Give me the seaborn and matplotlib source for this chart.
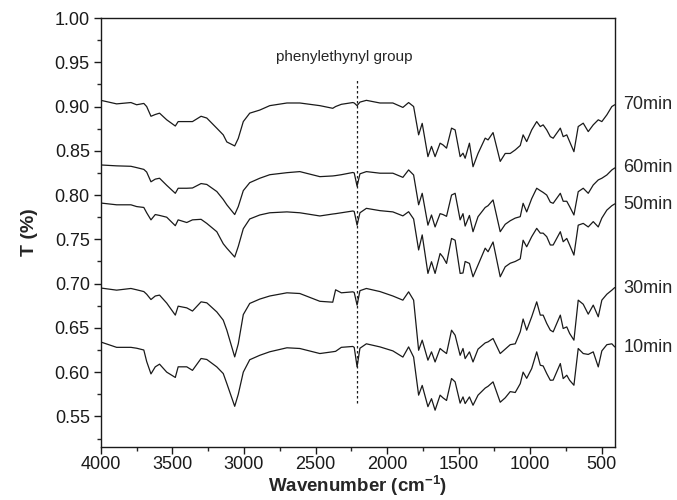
import matplotlib
matplotlib.use("Agg")
import matplotlib.pyplot as plt
import matplotlib.transforms as mtransforms
from matplotlib.ticker import MultipleLocator, FormatStrFormatter
import numpy as np
import pandas as pd
import seaborn as sns

# wavenumber grid shared by all spectra (cm-1)
WAVENUMBER = [
    4000, 3890, 3790, 3750, 3700, 3680, 3650, 3620, 3590, 3540,
    3480, 3460, 3400, 3360, 3300, 3260, 3190, 3145, 3120, 3065,
    3040, 3005, 2960, 2890, 2820, 2700, 2610, 2470, 2380, 2360,
    2320, 2240, 2230, 2210, 2190, 2145, 2050, 1960, 1890, 1850,
    1815, 1780, 1755, 1715, 1690, 1665, 1630, 1610, 1585, 1550,
    1525, 1490, 1470, 1455, 1425, 1400, 1365, 1315, 1295, 1260,
    1210, 1175, 1140, 1105, 1070, 1050, 1025, 990, 955, 930,
    910, 885, 860, 840, 790, 770, 745, 725, 695, 665,
    630, 595, 560, 525, 500, 465, 430, 410,
]

T_70MIN = [
    0.907, 0.903, 0.9045, 0.902, 0.9035, 0.900, 0.889, 0.891, 0.8925, 0.885,
    0.878, 0.883, 0.883, 0.883, 0.889, 0.887, 0.8755, 0.868, 0.860, 0.8555,
    0.864, 0.883, 0.8925, 0.896, 0.901, 0.904, 0.904, 0.901, 0.898, 0.900,
    0.9025, 0.9045, 0.904, 0.901, 0.905, 0.907, 0.904, 0.904, 0.899, 0.9045,
    0.900, 0.868, 0.881, 0.8434, 0.855, 0.8434, 0.8586, 0.8567, 0.853, 0.8756,
    0.8736, 0.8434, 0.8473, 0.8416, 0.8586, 0.832, 0.847, 0.8643, 0.8623, 0.8706,
    0.838, 0.847, 0.847, 0.851, 0.856, 0.868, 0.8604, 0.8736, 0.883, 0.8774,
    0.8793, 0.8736, 0.866, 0.8642, 0.8756, 0.866, 0.868, 0.8604, 0.849, 0.8774,
    0.8812, 0.8717, 0.8793, 0.885, 0.883, 0.8906, 0.900, 0.902,
]

T_60MIN = [
    0.834, 0.833, 0.8325, 0.831, 0.829, 0.826, 0.815, 0.818, 0.819, 0.811,
    0.802, 0.8077, 0.8077, 0.808, 0.813, 0.812, 0.804, 0.795, 0.789, 0.778,
    0.787, 0.805, 0.814, 0.819, 0.823, 0.8253, 0.8265, 0.8208, 0.8216, 0.822,
    0.823, 0.8255, 0.825, 0.810, 0.824, 0.8265, 0.8247, 0.8247, 0.820, 0.8284,
    0.8227, 0.789, 0.802, 0.766, 0.7775, 0.764, 0.779, 0.778, 0.776, 0.800,
    0.802, 0.772, 0.779, 0.765, 0.777, 0.7586, 0.7756, 0.786, 0.788, 0.7945,
    0.7586, 0.767, 0.771, 0.774, 0.7756, 0.7907, 0.781, 0.796, 0.8077, 0.805,
    0.803, 0.800, 0.792, 0.7907, 0.802, 0.793, 0.793, 0.787, 0.7775, 0.8038,
    0.8077, 0.802, 0.8114, 0.8171, 0.819, 0.8227, 0.8284, 0.8306,
]

T_50MIN = [
    0.791, 0.789, 0.789, 0.787, 0.786, 0.780, 0.772, 0.778, 0.777, 0.775,
    0.7654, 0.772, 0.769, 0.772, 0.7726, 0.768, 0.7586, 0.745, 0.740, 0.730,
    0.742, 0.762, 0.773, 0.7775, 0.780, 0.781, 0.780, 0.7764, 0.7786, 0.779,
    0.780, 0.782, 0.7815, 0.766, 0.780, 0.785, 0.7824, 0.781, 0.7765, 0.7812,
    0.773, 0.738, 0.755, 0.7115, 0.7247, 0.7115, 0.734, 0.730, 0.7228, 0.751,
    0.749, 0.7115, 0.712, 0.725, 0.7228, 0.7077, 0.721, 0.740, 0.736, 0.747,
    0.7077, 0.719, 0.723, 0.725, 0.728, 0.749, 0.7416, 0.753, 0.7624, 0.757,
    0.757, 0.753, 0.7436, 0.7436, 0.7586, 0.7473, 0.751, 0.7436, 0.7322, 0.766,
    0.768, 0.764, 0.770, 0.764, 0.774, 0.783, 0.788, 0.790,
]

T_30MIN = [
    0.695, 0.6926, 0.6945, 0.693, 0.691, 0.688, 0.682, 0.686, 0.687, 0.678,
    0.6644, 0.6745, 0.6726, 0.669, 0.6794, 0.6783, 0.668, 0.6587, 0.6474, 0.6172,
    0.632, 0.665, 0.6776, 0.6825, 0.686, 0.6896, 0.6888, 0.680, 0.679, 0.693,
    0.6896, 0.6907, 0.690, 0.6757, 0.692, 0.6945, 0.691, 0.686, 0.6813, 0.6907,
    0.6813, 0.6247, 0.6361, 0.6135, 0.6229, 0.6115, 0.6267, 0.624, 0.621, 0.6474,
    0.6417, 0.619, 0.6267, 0.6153, 0.6229, 0.6115, 0.626, 0.633, 0.6342, 0.638,
    0.621, 0.626, 0.631, 0.632, 0.6455, 0.660, 0.6474, 0.6625, 0.6794, 0.6644,
    0.6644, 0.655, 0.6474, 0.6455, 0.6644, 0.6493, 0.6511, 0.6437, 0.6361, 0.6813,
    0.6767, 0.6655, 0.6757, 0.6625, 0.6813, 0.688, 0.6926, 0.6955,
]

T_10MIN = [
    0.634, 0.628, 0.628, 0.627, 0.625, 0.612, 0.598, 0.606, 0.609, 0.600,
    0.594, 0.606, 0.606, 0.602, 0.6154, 0.6143, 0.6059, 0.5984, 0.5871, 0.5614,
    0.575, 0.600, 0.614, 0.619, 0.623, 0.6275, 0.6267, 0.621, 0.623, 0.6235,
    0.628, 0.629, 0.628, 0.606, 0.627, 0.632, 0.6285, 0.624, 0.617, 0.6285,
    0.617, 0.574, 0.585, 0.561, 0.570, 0.557, 0.574, 0.571, 0.568, 0.5928,
    0.589, 0.565, 0.572, 0.5645, 0.572, 0.5626, 0.574, 0.582, 0.584, 0.589,
    0.566, 0.571, 0.578, 0.577, 0.587, 0.600, 0.593, 0.604, 0.6229, 0.6078,
    0.607, 0.5984, 0.5908, 0.591, 0.6097, 0.5927, 0.5965, 0.5908, 0.5852, 0.6267,
    0.621, 0.620, 0.6229, 0.6059, 0.624, 0.631, 0.632, 0.6285,
]

SERIES_LABELS = ["70min", "60min", "50min", "30min", "10min"]
LABEL_Y = [0.902, 0.8307, 0.7888, 0.6949, 0.6282]

PEAK_WAVENUMBER = 2210
PEAK_SPAN = [0.565, 0.932]
ANNOTATION = "phenylethynyl group"

sns.set_style("ticks")
plt.rcParams["font.family"] = ["Liberation Sans", "DejaVu Sans"]
plt.rcParams["mathtext.fontset"] = "custom"
plt.rcParams["mathtext.rm"] = "Liberation Sans"
plt.rcParams["mathtext.bf"] = "Liberation Sans:bold"

spectra = [T_70MIN, T_60MIN, T_50MIN, T_30MIN, T_10MIN]
frames = []
for label, values in zip(SERIES_LABELS, spectra):
    frames.append(pd.DataFrame({"Wavenumber": WAVENUMBER, "T": values, "Time": label}))
data = pd.concat(frames, ignore_index=True)

fig = plt.figure(figsize=(6.77, 5.0), dpi=100)
ax = fig.add_axes([0.149, 0.107, 0.759, 0.857])

sns.lineplot(
    data=data,
    x="Wavenumber",
    y="T",
    units="Time",
    estimator=None,
    sort=False,
    color="#1a1a1a",
    linewidth=0.9,
    legend=False,
    ax=ax,
)

ax.plot([PEAK_WAVENUMBER, PEAK_WAVENUMBER], PEAK_SPAN, linestyle=(0, (2, 2)),
        color="#1a1a1a", linewidth=0.9)
ax.text(2302, 0.956, ANNOTATION, ha="center", va="center", fontsize=11)

label_transform = mtransforms.blended_transform_factory(ax.transAxes, ax.transData)
for label, y in zip(SERIES_LABELS, LABEL_Y):
    ax.text(1.017, y, label, transform=label_transform, ha="left", va="center",
            fontsize=13, clip_on=False)

ax.set_xlim(4000, 410)
ax.set_ylim(0.516, 1.00)
ax.xaxis.set_major_locator(MultipleLocator(500))
ax.xaxis.set_minor_locator(MultipleLocator(250))
ax.yaxis.set_major_locator(MultipleLocator(0.05))
ax.yaxis.set_minor_locator(MultipleLocator(0.025))
ax.yaxis.set_major_formatter(FormatStrFormatter("%.2f"))
ax.tick_params(axis="both", which="major", direction="out", length=5, width=1,
               labelsize=13, colors="#1a1a1a", pad=3)
ax.tick_params(axis="x", which="major", pad=2)
ax.tick_params(axis="both", which="minor", direction="out", length=3, width=1)
ax.tick_params(top=False, right=False, which="both")

for spine in ax.spines.values():
    spine.set_visible(True)
    spine.set_linewidth(1.0)
    spine.set_color("#1a1a1a")

ax.set_xlabel(r"Wavenumber (cm$^{\mathbf{-1}}$)", fontsize=13.5, fontweight="bold", labelpad=0)
ax.set_ylabel("T (%)", fontsize=14, fontweight="bold", labelpad=12)

fig.savefig("out.png", dpi=100)
